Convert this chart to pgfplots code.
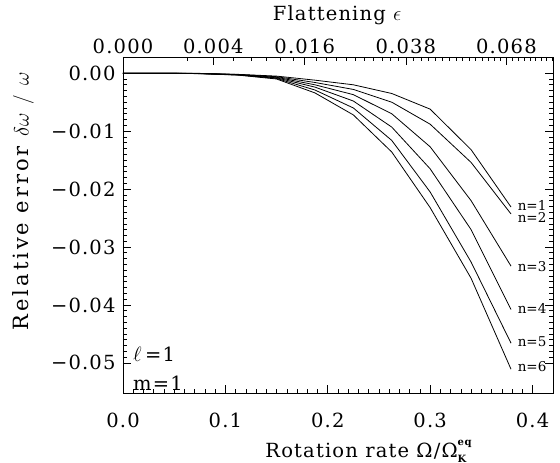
\documentclass[border=0pt]{standalone}
\usepackage{fontspec}
\setmainfont{DejaVu Serif}[LetterSpace=6]
\newfontfamily\plainfont{DejaVu Serif}
\newfontfamily\wideylab{DejaVu Serif}[LetterSpace=14]
\usepackage{pgfplots}
\pgfplotsset{compat=1.18}
\begin{document}
\begin{tikzpicture}
\begin{axis}[name=ax, width=430pt, height=336pt, scale only axis,
  xmin=0, xmax=0.42, ymin=-0.0552, ymax=0.0028,
  scaled ticks=false,
  xtick={0,0.1,0.2,0.3,0.4}, xticklabels={0.0,0.1,0.2,0.3,0.4},
  minor x tick num=9,
  ytick={-0.05,-0.04,-0.03,-0.02,-0.01,0},
  yticklabels={−0.05,−0.04,−0.03,−0.02,−0.01,0.00},
  minor y tick num=9,
  xtick pos=lower, ytick pos=both,
  tick align=inside, major tick length=8pt, minor tick length=4pt,
  every tick/.style={black, line width=0.6pt},
  axis line style={line width=0.8pt},
  ticklabel style={font=\fontsize{19.5}{21}\selectfont},
  yticklabel style={xshift=-4pt},
  xticklabel style={yshift=-17pt},
  xlabel={Rotation rate Ω/Ω\rlap{\raisebox{0.6em}{\fontsize{10}{10}\selectfont\bfseries eq}}\raisebox{-0.25em}{\fontsize{10}{10}\selectfont\bfseries K}},
  xlabel style={at={(axis description cs:0.565,-0.173)}, anchor=center, font=\fontsize{19.5}{21}\selectfont},
  ylabel={Relative error $\delta\omega\mkern8mu/\mkern8mu\omega$},
  ylabel style={at={(axis description cs:-0.232,0.571)}, anchor=center, font=\wideylab\fontsize{21}{23}\selectfont},
  clip=false
]
\addplot[black, line width=0.8pt] coordinates {(0,0) (0.0375,0) (0.075,-0.00003) (0.1125,-0.0002) (0.15,-0.0005) (0.1875,-0.0012) (0.225,-0.0020) (0.2625,-0.0035) (0.30,-0.0062) (0.34,-0.0132) (0.379,-0.0231)};
\addplot[black, line width=0.8pt] coordinates {(0,0) (0.0375,0) (0.075,-0.00004) (0.1125,-0.00022) (0.15,-0.0006) (0.1875,-0.0016) (0.225,-0.0028) (0.2625,-0.0050) (0.30,-0.0088) (0.34,-0.0154) (0.379,-0.0243)};
\addplot[black, line width=0.8pt] coordinates {(0,0) (0.0375,0) (0.075,-0.00005) (0.1125,-0.00025) (0.15,-0.0007) (0.1875,-0.0020) (0.225,-0.0037) (0.2625,-0.0070) (0.30,-0.0127) (0.34,-0.0220) (0.379,-0.0333)};
\addplot[black, line width=0.8pt] coordinates {(0,0) (0.0375,0) (0.075,-0.00006) (0.1125,-0.00028) (0.15,-0.0008) (0.1875,-0.0024) (0.225,-0.0048) (0.2625,-0.0093) (0.30,-0.0165) (0.34,-0.0270) (0.379,-0.0408)};
\addplot[black, line width=0.8pt] coordinates {(0,0) (0.0375,0) (0.075,-0.00007) (0.1125,-0.0003) (0.15,-0.0009) (0.1875,-0.0029) (0.225,-0.0060) (0.2625,-0.0116) (0.30,-0.0205) (0.34,-0.0326) (0.379,-0.0466)};
\addplot[black, line width=0.8pt] coordinates {(0,0) (0.0375,0) (0.075,-0.00008) (0.1125,-0.00033) (0.15,-0.0010) (0.1875,-0.0034) (0.225,-0.0072) (0.2625,-0.0136) (0.30,-0.0232) (0.34,-0.0354) (0.379,-0.0511)};
\node[anchor=west, font=\plainfont\fontsize{13.5}{14}\selectfont, inner sep=0pt] at (axis cs:0.3854,-0.0228) {n=1};
\node[anchor=west, font=\plainfont\fontsize{13.5}{14}\selectfont, inner sep=0pt] at (axis cs:0.3854,-0.0249) {n=2};
\node[anchor=west, font=\plainfont\fontsize{13.5}{14}\selectfont, inner sep=0pt] at (axis cs:0.3854,-0.0333) {n=3};
\node[anchor=west, font=\plainfont\fontsize{13.5}{14}\selectfont, inner sep=0pt] at (axis cs:0.3854,-0.0407) {n=4};
\node[anchor=west, font=\plainfont\fontsize{13.5}{14}\selectfont, inner sep=0pt] at (axis cs:0.3854,-0.0464) {n=5};
\node[anchor=west, font=\plainfont\fontsize{13.5}{14}\selectfont, inner sep=0pt] at (axis cs:0.3854,-0.0507) {n=6};
\node[anchor=base west, font=\fontsize{19.5}{21}\selectfont, inner sep=0pt] at (axis cs:0.0098,-0.0497) {$\ell$\,=1};
\node[anchor=base west, font=\fontsize{19.5}{21}\selectfont, inner sep=0pt] at (axis cs:0.0098,-0.0547) {m=1};
\end{axis}
\begin{axis}[width=430pt, height=336pt, scale only axis,
  xmin=0, xmax=0.42, ymin=0, ymax=1,
  axis x line*=top, hide y axis, scaled ticks=false,
  xtick={0,0.0882,0.1775,0.2763,0.3745},
  xticklabels={0.000,0.004,0.016,0.038,0.068},
  minor xtick={0.0624,0.1082,0.1250,0.1399,0.1534,0.1659,0.1884,0.1988,0.2087,0.2182,0.2273,0.2361,0.2446,0.2528,0.2608,0.2687,0.2837,0.2910,0.2981,0.3050,0.3119,0.3186,0.3252,0.3317,0.3381,0.3444,0.3506,0.3567,0.3627,0.3687,0.3803,0.3861,0.3918,0.3974,0.4029,0.4084,0.4138,0.4192},
  tick align=inside, major tick length=8pt, minor tick length=4pt,
  every tick/.style={black, line width=0.6pt},
  axis line style={line width=0.8pt},
  ticklabel style={font=\fontsize{19.5}{21}\selectfont},
  xlabel={Flattening $\epsilon$},
  xlabel style={at={(axis description cs:0.498,1.125)}, anchor=center, font=\fontsize{19.5}{21}\selectfont},
]
\end{axis}
\pgfresetboundingbox
\path ([xshift=-123pt,yshift=-70pt]ax.south west) rectangle ([xshift=7pt,yshift=57pt]ax.north east);
\end{tikzpicture}
\end{document}
